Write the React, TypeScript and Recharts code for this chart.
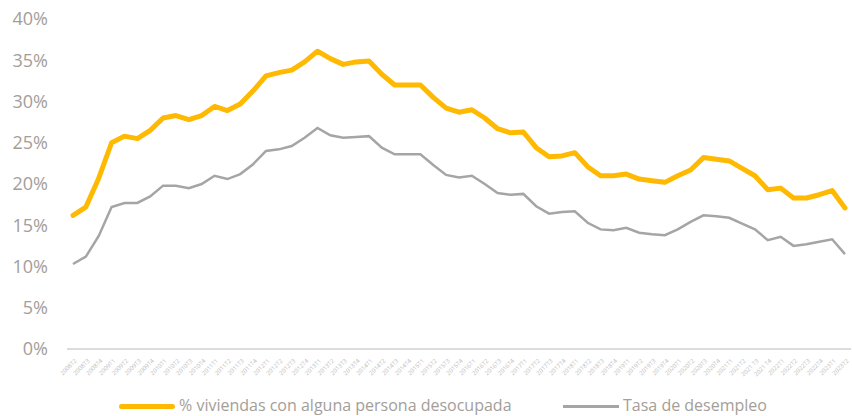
import React from 'react';
import { LineChart, Line, XAxis, YAxis } from 'recharts';

const quarters = [
  '2008T2', '2008T3', '2008T4',
  '2009T1', '2009T2', '2009T3', '2009T4',
  '2010T1', '2010T2', '2010T3', '2010T4',
  '2011T1', '2011T2', '2011T3', '2011T4',
  '2012T1', '2012T2', '2012T3', '2012T4',
  '2013T1', '2013T2', '2013T3', '2013T4',
  '2014T1', '2014T2', '2014T3', '2014T4',
  '2015T1', '2015T2', '2015T3', '2015T4',
  '2016T1', '2016T2', '2016T3', '2016T4',
  '2017T1', '2017T2', '2017T3', '2017T4',
  '2018T1', '2018T2', '2018T3', '2018T4',
  '2019T1', '2019T2', '2019T3', '2019T4',
  '2020T1', '2020T2', '2020T3', '2020T4',
  '2021T1', '2021T2', '2021 T3', '2021 T4',
  '2022T1', '2022T2', '2022T3', '2022T4',
  '2023T1', '2023T2',
];

// % viviendas con alguna persona desocupada
const hogaresDesocupados = [
  16.2, 17.2, 20.7,
  25.0, 25.8, 25.5, 26.5,
  28.0, 28.3, 27.8, 28.3,
  29.4, 28.9, 29.7, 31.3,
  33.1, 33.5, 33.8, 34.8,
  36.1, 35.2, 34.5, 34.8,
  34.9, 33.3, 32.0, 32.0,
  32.0, 30.5, 29.2, 28.7,
  29.0, 28.0, 26.7, 26.2,
  26.3, 24.4, 23.3, 23.4,
  23.8, 22.1, 21.0, 21.0,
  21.2, 20.6, 20.4, 20.2,
  21.0, 21.7, 23.2, 23.0,
  22.8, 21.9, 21.0, 19.3,
  19.5, 18.3, 18.3, 18.7,
  19.2, 17.1,
];

// Tasa de desempleo
const tasaDesempleo = [
  10.3, 11.2, 13.7,
  17.2, 17.7, 17.7, 18.5,
  19.8, 19.8, 19.5, 20.0,
  21.0, 20.6, 21.2, 22.4,
  24.0, 24.2, 24.6, 25.6,
  26.8, 25.9, 25.6, 25.7,
  25.8, 24.4, 23.6, 23.6,
  23.6, 22.3, 21.1, 20.8,
  21.0, 20.0, 18.9, 18.7,
  18.8, 17.3, 16.4, 16.6,
  16.7, 15.3, 14.5, 14.4,
  14.7, 14.1, 13.9, 13.8,
  14.5, 15.4, 16.2, 16.1,
  15.9, 15.2, 14.5, 13.2,
  13.6, 12.5, 12.7, 13.0,
  13.3, 11.5,
];

const yTicks = [0, 5, 10, 15, 20, 25, 30, 35, 40];

const data = quarters.map((q, i) => ({
  q,
  hogares: hogaresDesocupados[i],
  desempleo: tasaDesempleo[i],
}));

const ORANGE = '#FFB900';
const GREY = '#A5A5A5';
const TEXT = '#A39E99';
const FONT = '"Open Sans", sans-serif';

const QuarterTick = (props: any) => {
  const { x, y, payload } = props;
  return (
    <text
      x={x}
      y={y}
      dy={6}
      transform={`rotate(-45, ${x}, ${y})`}
      textAnchor="end"
      fontSize={6}
      fill="#BDBDBD"
      fontFamily={FONT}
    >
      {payload.value}
    </text>
  );
};

// legend drawn below the plot, same as the original slide
const LegendBox = () => (
  <div style={{ position: 'absolute', left: 0, top: 394, width: 852, height: 22, fontFamily: FONT, fontSize: 16, color: TEXT }}>
    <div style={{ position: 'absolute', left: 119, top: 10, width: 56, height: 5, background: ORANGE, borderRadius: 3 }} />
    <span style={{ position: 'absolute', left: 179, top: 0, lineHeight: '22px', whiteSpace: 'nowrap' }}>
      % viviendas con alguna persona desocupada
    </span>
    <div style={{ position: 'absolute', left: 563, top: 11, width: 56, height: 3, background: GREY }} />
    <span style={{ position: 'absolute', left: 623, top: 0, lineHeight: '22px', whiteSpace: 'nowrap' }}>
      Tasa de desempleo
    </span>
  </div>
);

export default function App() {
  return (
    <div style={{ position: 'absolute', left: 0, top: 0, width: 852, height: 416, background: '#fff' }}>
      <LineChart width={852} height={416} data={data} margin={{ top: 19, right: 1, bottom: 31, left: 0 }}>
        <XAxis
          dataKey="q"
          interval={0}
          padding={{ left: 6, right: 6 }}
          axisLine={{ stroke: '#DCDCDC', strokeWidth: 2 }}
          tickLine={false}
          tick={<QuarterTick />}
          height={36}
        />
        <YAxis
          domain={[0, 40]}
          ticks={yTicks}
          width={67}
          axisLine={false}
          tickLine={false}
          tickSize={0}
          tickMargin={19}
          tickFormatter={(v) => `${v}%`}
          tick={{ fill: TEXT, fontSize: 18, fontFamily: FONT }}
        />
        <Line
          type="linear"
          dataKey="desempleo"
          stroke={GREY}
          strokeWidth={2.5}
          dot={false}
          isAnimationActive={false}
        />
        <Line
          type="linear"
          dataKey="hogares"
          stroke={ORANGE}
          strokeWidth={5}
          strokeLinecap="round"
          strokeLinejoin="round"
          dot={false}
          isAnimationActive={false}
        />
      </LineChart>
      <LegendBox />
    </div>
  );
}
